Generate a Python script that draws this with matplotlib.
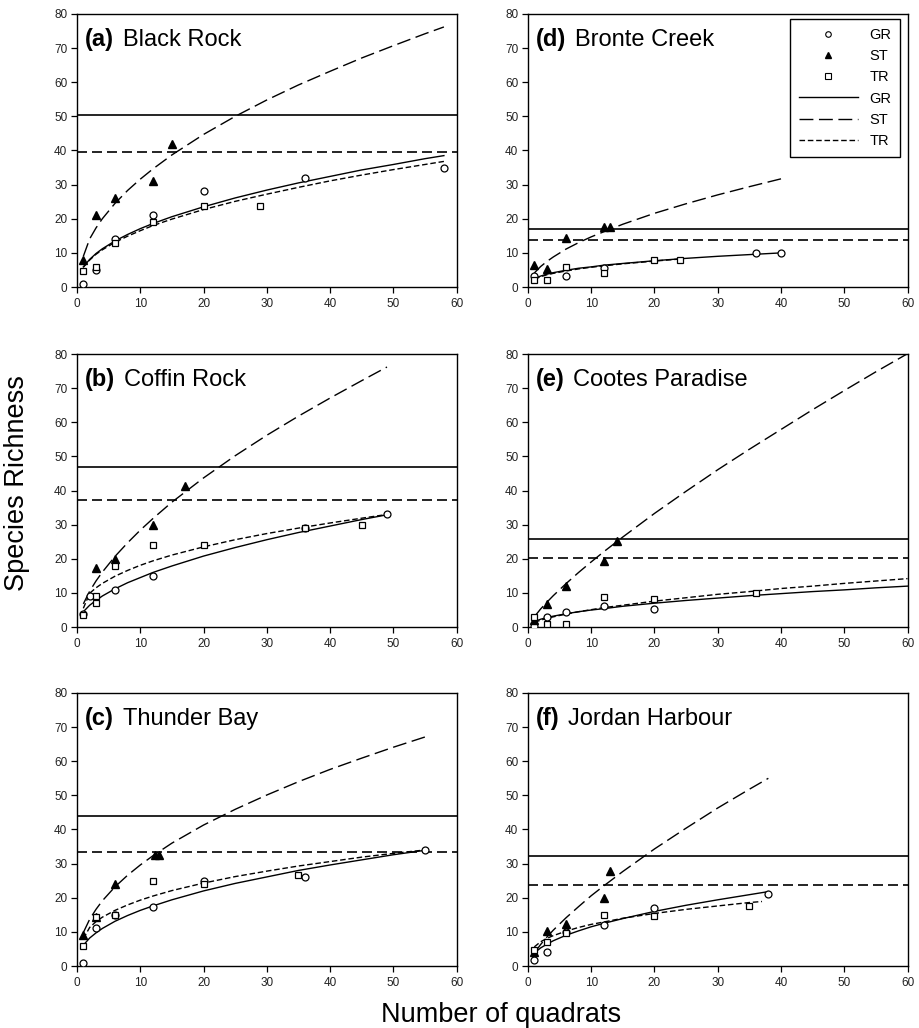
import matplotlib as mpl
mpl.use('Agg')
from matplotlib import pyplot as plt
from matplotlib.lines import Line2D

# ---- observed points (quadrats, species) ----
# (a) Black Rock
a_gr_x = [1, 3, 6, 12, 20, 36, 58]
a_gr_y = [1, 5, 14, 21, 28, 32, 35]
a_st_x = [1, 3, 6, 12, 15]
a_st_y = [8, 21, 26, 31, 42]
a_tr_x = [1, 3, 6, 12, 20, 29]
a_tr_y = [4.6, 6, 13, 19, 23.8, 23.6]
# (b) Coffin Rock
b_gr_x = [1, 2, 6, 12, 36, 49]
b_gr_y = [3.7, 9, 11, 15, 29, 33.2]
b_st_x = [3, 6, 12, 17]
b_st_y = [17.2, 20, 29.8, 41.4]
b_tr_x = [1, 3, 3, 6, 12, 20, 36, 45]
b_tr_y = [3.5, 9, 7, 18, 24, 24, 29, 30]
# (c) Thunder Bay
c_gr_x = [1, 3, 6, 12, 20, 36, 55]
c_gr_y = [1, 11, 15, 17.2, 25, 26, 34]
c_st_x = [1, 3, 6, 12.4, 13]
c_st_y = [9, 14.3, 24, 32.4, 32.4]
c_tr_x = [1, 3, 6, 12, 20, 35]
c_tr_y = [6, 14.3, 15, 25, 24, 26.7]
# (d) Bronte Creek
d_gr_x = [1, 6, 12, 36, 40]
d_gr_y = [3.3, 3.1, 5.5, 10.1, 10.1]
d_st_x = [1, 3, 6, 12, 13]
d_st_y = [6.4, 5.4, 14.4, 17.7, 17.7]
d_tr_x = [1, 3, 6, 12, 20, 24]
d_tr_y = [2.2, 2.2, 5.9, 4.1, 8, 8]
# (e) Cootes Paradise
e_gr_x = [1, 3, 6, 12, 20]
e_gr_y = [0.3, 2.9, 4.5, 6.1, 5.2]
e_st_x = [1, 3, 6, 12, 14]
e_st_y = [2.2, 6.9, 12.1, 19.4, 25.1]
e_tr_x = [1, 3, 6, 12, 20, 36]
e_tr_y = [3, 1, 1, 8.9, 8.1, 9.9]
# (f) Jordan Harbour
f_gr_x = [1, 3, 6, 12, 20, 38]
f_gr_y = [1.9, 4.1, 10, 12, 16.9, 21]
f_st_x = [1, 3, 6, 12, 13]
f_st_y = [4, 10.2, 12.3, 20, 27.9]
f_tr_x = [1, 3, 6, 12, 20, 35]
f_tr_y = [4.6, 7, 9.8, 14.9, 14.7, 17.6]

# ---- fitted accumulation curves ----
a_fit_x = [1, 2, 3, 4, 6, 8, 10, 12, 15, 20, 25, 30, 35, 40, 45, 50, 55, 58]
a_fit_gr = [5.9, 8.1, 9.8, 11.2, 13.5, 15.4, 17.1, 18.6, 20.6, 23.5, 26.1, 28.4, 30.5, 32.4, 34.3, 35.9, 37.6, 38.5]
a_fit_st = [9.0, 14.1, 17.3, 20.0, 24.5, 28.3, 31.6, 34.6, 38.7, 44.7, 50.0, 54.8, 59.2, 63.2, 67.1, 70.7, 74.2, 76.2]
a_fit_tr = [5.8, 7.9, 9.6, 10.9, 13.1, 14.9, 16.5, 18.0, 19.9, 22.7, 25.1, 27.2, 29.2, 31.1, 32.8, 34.4, 35.9, 36.8]

b_fit_x = [1, 2, 3, 4, 6, 8, 10, 12, 15, 20, 25, 30, 35, 40, 45, 49]
b_fit_gr = [4.5, 6.4, 7.8, 9.1, 11.2, 13.0, 14.5, 16.0, 17.9, 20.8, 23.3, 25.6, 27.7, 29.6, 31.5, 32.9]
b_fit_st = [6.8, 10.5, 13.5, 16.1, 20.7, 24.7, 28.4, 31.8, 36.6, 43.7, 50.2, 56.2, 61.8, 67.1, 72.2, 76.2]
b_fit_tr = [5.5, 9.9, 11.5, 12.8, 14.9, 16.6, 18.1, 19.4, 21.1, 23.5, 25.6, 27.4, 29.0, 30.5, 31.9, 33.0]

c_fit_x = [1, 2, 3, 4, 6, 8, 10, 12, 15, 20, 25, 30, 35, 40, 45, 50, 55]
c_fit_gr = [6.1, 8.2, 9.7, 11.0, 13.1, 14.8, 16.3, 17.6, 19.4, 22.0, 24.2, 26.1, 28.0, 29.6, 31.1, 32.6, 33.9]
c_fit_st = [9.8, 13.7, 16.6, 19.1, 23.2, 26.6, 29.6, 32.3, 36.0, 41.3, 45.9, 50.1, 54.0, 57.6, 60.9, 64.1, 67.1]
c_fit_tr = [8.0, 11.3, 13.0, 14.3, 16.3, 17.9, 19.3, 20.5, 22.1, 24.3, 26.2, 27.8, 29.3, 30.6, 31.9, 33.0, 34.0]

d_fit_x = [1, 2, 3, 4, 6, 8, 10, 12, 15, 20, 25, 30, 35, 40]
d_fit_gr = [2.5, 3.2, 3.8, 4.2, 4.9, 5.5, 5.9, 6.4, 6.9, 7.7, 8.4, 9.0, 9.5, 10.0]
d_fit_st = [4.1, 6.0, 7.5, 8.8, 11.1, 13.0, 14.7, 16.2, 18.4, 21.6, 24.4, 27.0, 29.4, 31.7]
d_fit_tr_x = [1, 2, 3, 4, 6, 8, 10, 12, 15, 20, 24]
d_fit_tr = [2.3, 3.0, 3.6, 4.0, 4.7, 5.3, 5.8, 6.2, 6.8, 7.6, 8.2]

e_fit_x = [1, 2, 3, 4, 6, 8, 10, 12, 15, 20, 25, 30, 35, 40, 45, 50, 55, 60]
e_fit_gr = [1.6, 2.3, 2.8, 3.2, 3.9, 4.5, 5.0, 5.4, 6.1, 7.0, 7.8, 8.5, 9.2, 9.8, 10.4, 10.9, 11.5, 12.0]
e_fit_st = [3.0, 5.3, 7.3, 9.2, 12.7, 16.0, 19.1, 22.1, 26.4, 33.3, 39.8, 46.1, 52.1, 57.9, 63.7, 69.3, 74.8, 80.1]
e_fit_tr = [1.4, 2.0, 2.6, 3.0, 3.8, 4.5, 5.1, 5.7, 6.4, 7.6, 8.6, 9.6, 10.4, 11.3, 12.0, 12.8, 13.5, 14.2]

f_fit_x = [1, 2, 3, 4, 6, 8, 10, 12, 15, 20, 25, 30, 35, 38]
f_fit_gr = [3.8, 5.3, 6.4, 7.4, 9.0, 10.3, 11.5, 12.5, 13.9, 16.0, 17.8, 19.4, 20.9, 21.8]
f_fit_st = [3.8, 6.3, 8.5, 10.5, 14.1, 17.4, 20.6, 23.5, 27.7, 34.3, 40.4, 46.3, 51.8, 55.0]
f_fit_tr_x = [1, 2, 3, 4, 6, 8, 10, 12, 15, 20, 25, 30, 35, 37]
f_fit_tr = [5.6, 7.1, 8.1, 8.9, 10.2, 11.3, 12.2, 12.9, 14.0, 15.4, 16.6, 17.6, 18.6, 18.9]

# horizontal reference lines (solid, dashed) per site
h_solid = {'a': 50.3, 'b': 46.9, 'c': 44.1, 'd': 17.1, 'e': 25.8, 'f': 32.3}
h_dash = {'a': 39.6, 'b': 37.3, 'c': 33.4, 'd': 13.9, 'e': 20.1, 'f': 23.8}

panel_tag = {'a': '(a)', 'b': '(b)', 'c': '(c)', 'd': '(d)', 'e': '(e)', 'f': '(f)'}
site_name = {'a': 'Black Rock', 'b': 'Coffin Rock', 'c': 'Thunder Bay',
             'd': 'Bronte Creek', 'e': 'Cootes Paradise', 'f': 'Jordan Harbour'}

ST_DASH = (0, (10, 4))
TR_DASH = (0, (4, 2))


def main():
    mpl.rc('font', family=['Liberation Sans', 'DejaVu Sans'])

    panels = {
        'a': (a_gr_x, a_gr_y, a_st_x, a_st_y, a_tr_x, a_tr_y,
              a_fit_x, a_fit_gr, a_fit_x, a_fit_st, a_fit_x, a_fit_tr),
        'b': (b_gr_x, b_gr_y, b_st_x, b_st_y, b_tr_x, b_tr_y,
              b_fit_x, b_fit_gr, b_fit_x, b_fit_st, b_fit_x, b_fit_tr),
        'c': (c_gr_x, c_gr_y, c_st_x, c_st_y, c_tr_x, c_tr_y,
              c_fit_x, c_fit_gr, c_fit_x, c_fit_st, c_fit_x, c_fit_tr),
        'd': (d_gr_x, d_gr_y, d_st_x, d_st_y, d_tr_x, d_tr_y,
              d_fit_x, d_fit_gr, d_fit_x, d_fit_st, d_fit_tr_x, d_fit_tr),
        'e': (e_gr_x, e_gr_y, e_st_x, e_st_y, e_tr_x, e_tr_y,
              e_fit_x, e_fit_gr, e_fit_x, e_fit_st, e_fit_x, e_fit_tr),
        'f': (f_gr_x, f_gr_y, f_st_x, f_st_y, f_tr_x, f_tr_y,
              f_fit_x, f_fit_gr, f_fit_x, f_fit_st, f_fit_tr_x, f_fit_tr),
    }

    fig = plt.figure(figsize=(9.19, 10.28), dpi=100)

    lefts = {'a': 0.0838, 'b': 0.0838, 'c': 0.0838, 'd': 0.5745, 'e': 0.5745, 'f': 0.5745}
    bottoms = {'a': 0.7208, 'd': 0.7208, 'b': 0.3900, 'e': 0.3900, 'c': 0.0603, 'f': 0.0603}

    for key, p in panels.items():
        gx, gy, sx, sy, tx, ty, fgx, fgy, fsx, fsy, ftx, fty = p
        ax = fig.add_axes([lefts[key], bottoms[key], 0.4130, 0.2656])

        # -- horizontal lines --
        ax.axhline(h_solid[key], color='k', lw=1.2)
        ax.axhline(h_dash[key], color='k', lw=1.2, ls=(0, (6, 3)))

        # -- fitted curves --
        ax.plot(fgx, fgy, color='k', lw=1.0, ls='-')
        ax.plot(fsx, fsy, color='k', lw=1.0, ls=ST_DASH)
        ax.plot(ftx, fty, color='k', lw=1.0, ls=TR_DASH)

        # -- points --
        ax.plot(gx, gy, 'o', ms=5, mfc='white', mec='k', mew=0.9, ls='none', zorder=3)
        ax.plot(sx, sy, '^', ms=5.5, mfc='k', mec='k', ls='none', zorder=3)
        ax.plot(tx, ty, 's', ms=5, mfc='white', mec='k', mew=0.9, ls='none', zorder=3)

        ax.set_xlim([0, 60])
        ax.set_ylim([0, 80])
        ax.set_xticks(range(0, 61, 10))
        ax.set_yticks(range(0, 81, 10))
        ax.tick_params(direction='out', length=4, width=0.9, labelsize=8.5,
                       labelcolor='#222222')
        ax.tick_params(axis='x', pad=4)
        ax.tick_params(axis='y', pad=3)
        for s in ax.spines.values():
            s.set_linewidth(1.0)

        tag = ax.text(0.02, 0.905, panel_tag[key], transform=ax.transAxes,
                      fontsize=17, fontweight='bold', va='center', ha='left')
        ax.annotate(site_name[key], xy=(1, 0.5), xycoords=tag,
                    xytext=(6.5, 0), textcoords='offset points',
                    fontsize=17, va='center', ha='left')

        if key == 'd':
            handles = [
                Line2D([], [], marker='o', ms=4, mfc='white', mec='k', mew=0.8, ls='none'),
                Line2D([], [], marker='^', ms=4.5, mfc='k', mec='k', ls='none'),
                Line2D([], [], marker='s', ms=4, mfc='white', mec='k', mew=0.8, ls='none'),
                Line2D([], [], color='k', lw=1.0, ls='-'),
                Line2D([], [], color='k', lw=1.0, ls=ST_DASH),
                Line2D([], [], color='k', lw=1.0, ls=TR_DASH),
            ]
            leg = ax.legend(handles, ['GR', 'ST', 'TR', 'GR', 'ST', 'TR'],
                            loc='upper right', bbox_to_anchor=(0.98, 0.982),
                            borderaxespad=0, fontsize=10.5, handlelength=4.0,
                            handletextpad=0.8, labelspacing=0.5,
                            fancybox=False, framealpha=1, edgecolor='k',
                            borderpad=0.6)
            leg.get_frame().set_linewidth(1.0)

    fig.text(0.0185, 0.53, 'Species Richness', rotation=90, fontsize=19.5,
             va='center', ha='center')
    fig.text(0.545, 0.0126, 'Number of quadrats', fontsize=19.5,
             va='center', ha='center')

    plt.savefig('out.png', dpi=100)


if __name__ == "__main__":
    main()
